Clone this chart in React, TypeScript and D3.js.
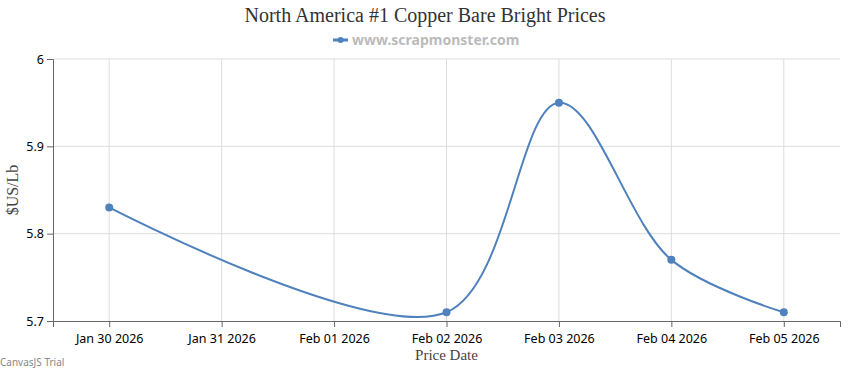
import React, { useEffect, useRef } from 'react'
import * as d3 from 'd3'

const [WIDTH, HEIGHT] = [850, 370]
const margin = { left: 53, right: 10, top: 59, bottom: 49 }

const dates = ['2026-01-30', '2026-02-02', '2026-02-03', '2026-02-04', '2026-02-05']
const prices = [5.83, 5.71, 5.95, 5.77, 5.71]
const yTicks = [5.7, 5.8, 5.9, 6]
const tickDates = ['2026-01-30', '2026-01-31', '2026-02-01', '2026-02-02', '2026-02-03', '2026-02-04', '2026-02-05']

const COLOR = '#4F81BC'
const parse = d3.timeParse('%Y-%m-%d')

export default function App() {
  const ref = useRef<SVGSVGElement>(null)

  useEffect(() => {
    const svg = d3.select(ref.current)
    svg.selectAll('*').remove()

    const start = d3.timeHour.offset(parse(dates[0])!, -12)
    const end = d3.timeHour.offset(parse(dates[dates.length - 1])!, 12)
    const x = d3.scaleTime().domain([start, end]).range([margin.left, WIDTH - margin.right])
    const y = d3.scaleLinear().domain([5.7, 6]).range([HEIGHT - margin.bottom, margin.top])

    const sans = '"Noto Sans", sans-serif'
    const serif = '"Liberation Serif", serif'

    // gridlines
    svg.append('g')
      .selectAll('line')
      .data(tickDates)
      .join('line')
      .attr('x1', d => x(parse(d)!)).attr('x2', d => x(parse(d)!))
      .attr('y1', margin.top).attr('y2', HEIGHT - margin.bottom)
      .attr('stroke', '#dddddd')
    svg.append('g')
      .selectAll('line')
      .data(yTicks.slice(1))
      .join('line')
      .attr('x1', margin.left).attr('x2', WIDTH - margin.right)
      .attr('y1', d => y(d)).attr('y2', d => y(d))
      .attr('stroke', '#dddddd')

    // axes
    const yAxis = svg.append('g')
      .attr('transform', `translate(${margin.left},0)`)
      .call(d3.axisLeft(y).tickValues(yTicks).tickSize(6).tickFormat(d => d3.format('')(d as number)))
    const xAxis = svg.append('g')
      .attr('transform', `translate(0,${HEIGHT - margin.bottom})`)
      .call(d3.axisBottom(x).tickValues(tickDates.map(d => parse(d)!)).tickSize(6).tickFormat(d => d3.timeFormat('%b %d %Y')(d as Date)))
    for (const g of [xAxis, yAxis]) {
      g.select('.domain').attr('stroke', '#666666')
      g.selectAll('.tick line').attr('stroke', '#666666')
      g.selectAll('.tick text').attr('fill', '#000000').style('font-family', sans).style('font-size', '12.5px')
    }
    xAxis.selectAll('.tick text').attr('dy', '1.05em')

    // series (spline)
    const pts = dates.map((d, i) => [x(parse(d)!), y(prices[i])] as [number, number])
    svg.append('path')
      .attr('d', d3.line().curve(d3.curveCatmullRom.alpha(0.5))(pts))
      .attr('fill', 'none')
      .attr('stroke', COLOR)
      .attr('stroke-width', 2)
    svg.append('g')
      .selectAll('circle')
      .data(pts)
      .join('circle')
      .attr('cx', d => d[0]).attr('cy', d => d[1]).attr('r', 4)
      .attr('fill', COLOR)

    // title & legend
    svg.append('text').attr('x', 425).attr('y', 22).attr('text-anchor', 'middle')
      .style('font-family', serif).style('font-size', '20px').attr('fill', '#333333')
      .text('North America #1 Copper Bare Bright Prices')
    svg.append('line').attr('x1', 333).attr('x2', 348).attr('y1', 40).attr('y2', 40)
      .attr('stroke', COLOR).attr('stroke-width', 3)
    svg.append('circle').attr('cx', 340.5).attr('cy', 40).attr('r', 3).attr('fill', COLOR)
    svg.append('text').attr('x', 352).attr('y', 45)
      .style('font-family', sans).style('font-size', '14px').style('font-weight', 'bold').attr('fill', '#bbbbbb')
      .text('www.scrapmonster.com')

    // axis titles
    svg.append('text').attr('transform', `translate(18,${(margin.top + HEIGHT - margin.bottom) / 2}) rotate(-90)`)
      .attr('text-anchor', 'middle')
      .style('font-family', serif).style('font-size', '16px').attr('fill', '#444444')
      .text('$US/Lb')
    svg.append('text').attr('x', x(parse('2026-02-02')!)).attr('y', 360).attr('text-anchor', 'middle')
      .style('font-family', serif).style('font-size', '15px').attr('fill', '#444444')
      .text('Price Date')

    svg.append('text').attr('x', 0).attr('y', 366)
      .style('font-family', sans).style('font-size', '10px').attr('fill', '#888888')
      .text('CanvasJS Trial')
  }, [])

  return (
    <svg ref={ref} width={WIDTH} height={HEIGHT} style={{ position: 'absolute', left: 0, top: 0 }} />
  )
}
